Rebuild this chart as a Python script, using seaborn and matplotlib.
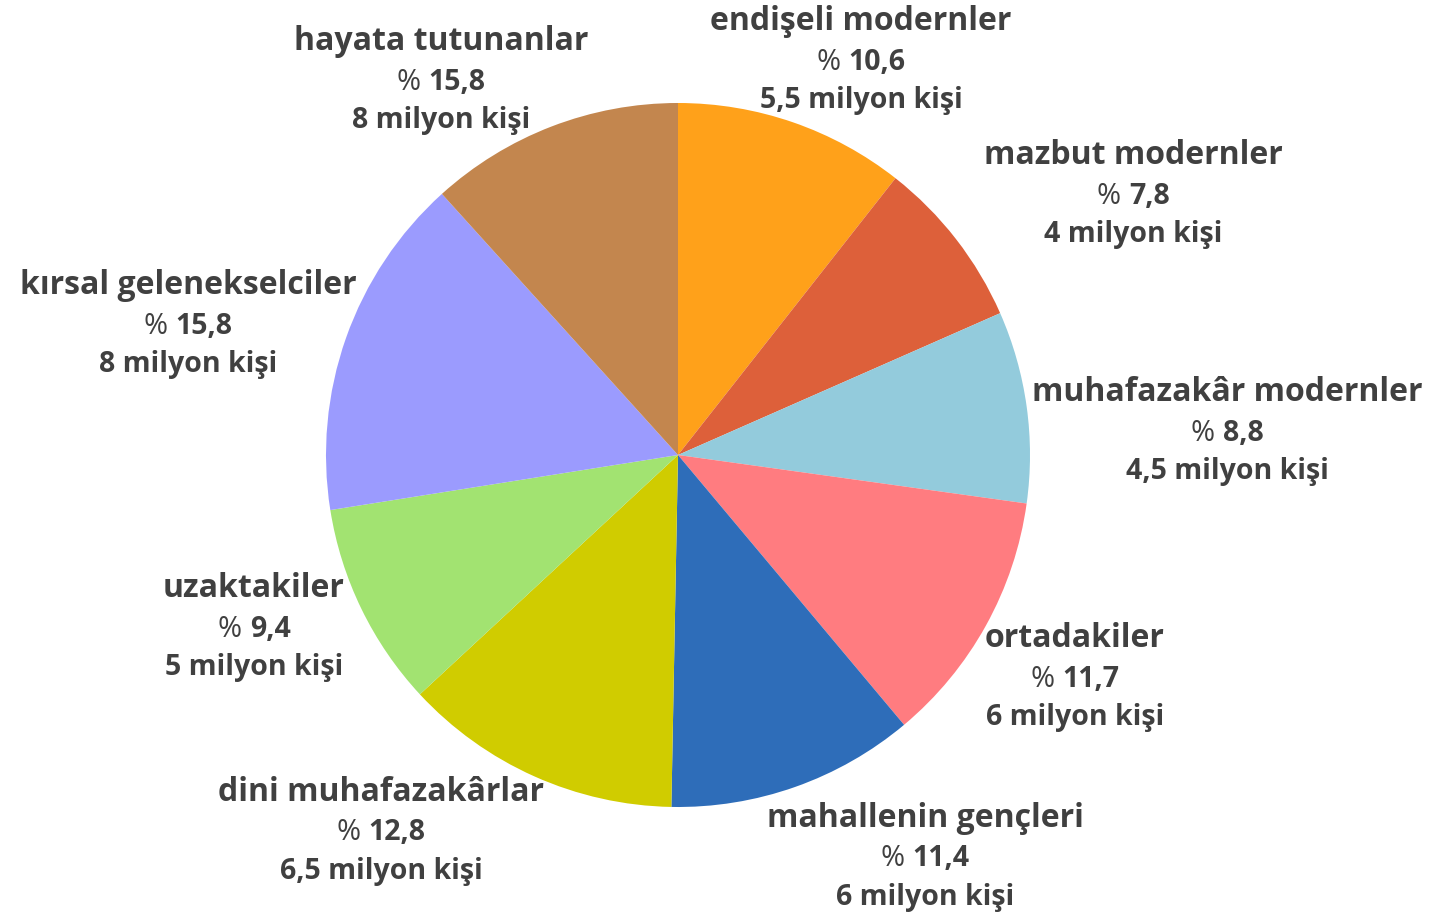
import matplotlib
matplotlib.use("Agg")
import matplotlib.pyplot as plt
import seaborn as sns
from matplotlib.offsetbox import TextArea, HPacker, VPacker, AnnotationBbox

# segment data, clockwise from the top
segments = ["endişeli modernler", "mazbut modernler", "muhafazakâr modernler",
            "ortadakiler", "mahallenin gençleri", "dini muhafazakârlar",
            "uzaktakiler", "kırsal gelenekselciler", "hayata tutunanlar"]
shares = [10.6, 7.8, 8.8, 11.7, 11.4, 12.8, 9.4, 15.8, 11.7]
share_labels = ["10,6", "7,8", "8,8", "11,7", "11,4", "12,8", "9,4", "15,8", "15,8"]
people_labels = ["5,5 milyon kişi", "4 milyon kişi", "4,5 milyon kişi", "6 milyon kişi",
                 "6 milyon kişi", "6,5 milyon kişi", "5 milyon kişi", "8 milyon kişi",
                 "8 milyon kişi"]
colors = ["#FFA11A", "#DD603A", "#93CBDC", "#FF7C80", "#2E6DB9",
          "#D0CC00", "#A2E371", "#9B9BFE", "#C3864E"]

# label block centres (pie radius = 1)
label_pos = [(0.520, 1.122), (1.293, 0.741), (1.560, 0.068), (1.128, -0.631),
             (0.702, -1.142), (-0.844, -1.068), (-1.205, -0.489), (-1.392, 0.372),
             (-0.673, 1.065)]

sns.set_theme(style="white")
plt.rcParams['font.family'] = ['Open Sans', 'DejaVu Sans']

txt = "#404040"

fig = plt.figure(figsize=(14.39, 9.15), dpi=100)
ax = fig.add_axes([0, 0, 1, 1])

ax.pie(shares, colors=colors, startangle=90, counterclock=False, radius=1,
       wedgeprops=dict(linewidth=0))

for name, sh, ppl, pos in zip(segments, share_labels, people_labels, label_pos):
    title = TextArea(name, textprops=dict(fontsize=23, fontweight="bold", color=txt))
    pct = HPacker(children=[
        TextArea("%", textprops=dict(fontsize=21, fontweight="normal", color=txt)),
        TextArea(sh, textprops=dict(fontsize=20.5, fontweight="bold", color=txt))],
        align="baseline", pad=0, sep=6)
    ppl_t = TextArea(ppl, textprops=dict(fontsize=20.5, fontweight="bold", color=txt))
    box = VPacker(children=[title, pct, ppl_t], align="center", pad=0, sep=7)
    ab = AnnotationBbox(box, pos, xycoords="data", frameon=False, box_alignment=(0.5, 0.5))
    ax.add_artist(ab)

ax.set_xlim(-678 / 352, (1439 - 678) / 352)
ax.set_ylim(-(915 - 455) / 352, 455 / 352)
ax.set_aspect("auto")
ax.axis("off")

fig.savefig("out.png", dpi=100)
